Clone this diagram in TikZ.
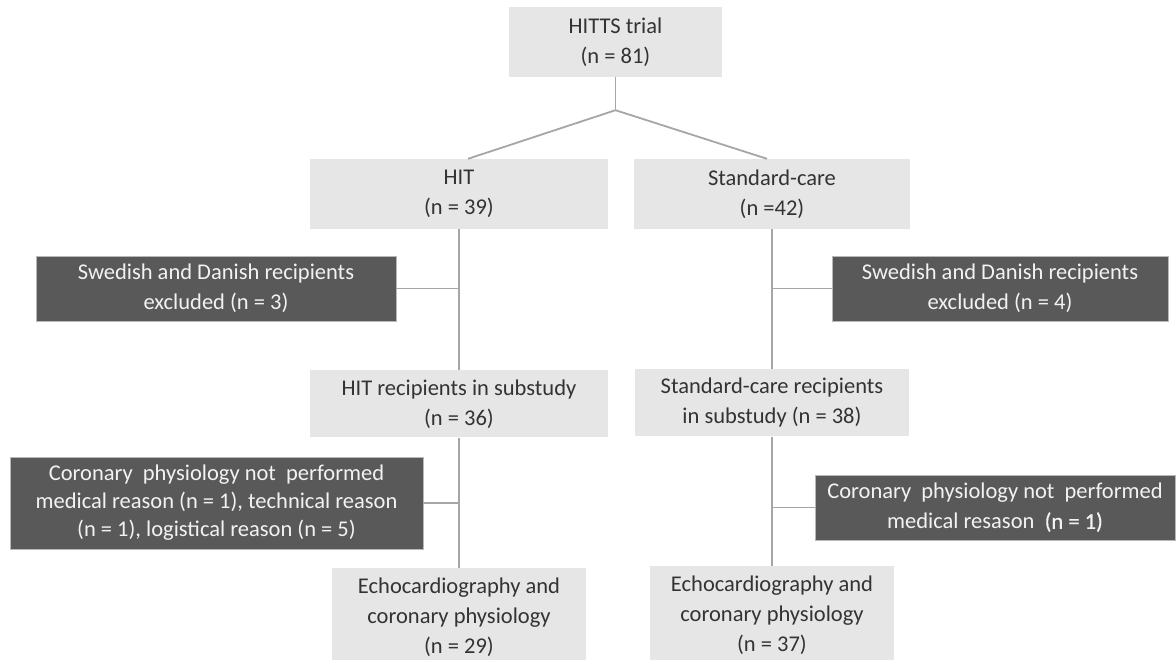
\documentclass[tikz,border=0pt]{standalone}
\usepackage{fontspec}
\setmainfont{Carlito}
\newfontfamily\heavyfont[FakeBold=0.5]{Carlito}
\usepackage{xcolor}
\definecolor{boxgray}{HTML}{E6E6E6}
\definecolor{boxdark}{HTML}{595959}
\definecolor{edgegray}{HTML}{A6A6A6}
\definecolor{ink}{HTML}{333333}
\usetikzlibrary{positioning,calc}
\tikzset{
  blk/.style={fill=boxgray,draw=none,align=center,text=ink,font=\fontsize{22.5}{30}\selectfont,
    inner sep=2pt,minimum height=70pt},
  blkd/.style={blk,fill=boxdark,draw=edgegray!80,line width=0.8pt,text=white!95!black,minimum height=65pt},
  flow/.style={draw=edgegray,line width=1.8pt},
}
\begin{document}
\begin{tikzpicture}[x=1pt,y=-1pt]
  \useasboundingbox[fill=white] (0,0) rectangle (1176,659);
  \node[blk,minimum width=213pt] (trial) at (615.5,42) {HITTS trial\\(n = 81)};
  \node[blk,minimum width=298pt] (hit) at (459,194) {HIT\\(n = 39)};
  \node[blk,minimum width=276pt] (std) at (772,194) {Standard-care\\(n =42)};
  \node[blk,minimum width=298pt,minimum height=67pt,below=141pt of hit] (hitsub) {HIT recipients in substudy\\(n = 36)};
  \node[blk,minimum width=274pt,minimum height=67pt,below=140pt of std] (stdsub) {Standard-care recipients\\in substudy (n = 38)};
  \node[blk,minimum width=254pt,minimum height=98pt,below=130pt of hitsub] (echol) {Echocardiography and\\coronary physiology\\(n = 29)};
  \node[blk,minimum width=244pt,minimum height=98pt,below=129pt of stdsub] (echor) {Echocardiography and\\coronary physiology\\(n = 37)};
  % exclusions
  \node[blkd,minimum width=360pt] (exl) at (216,288.5) {Swedish and Danish recipients\\excluded (n = 3)};
  \node[blkd,minimum width=336pt] (exr) at (1000,288.5) {Swedish and Danish recipients\\excluded (n = 4)};
  \node[blkd,minimum width=413pt,minimum height=92pt,font=\fontsize{22.5}{28}\selectfont] (cpl) at (216.5,503)
    {Coronary\ \ physiology not\ \ performed\\medical reason (n = 1), technical reason\\(n = 1), logistical reason (n = 5)};
  \node[blkd,minimum width=360pt] (cpr) at (995,507.5) {Coronary\ \ physiology not\ \ performed\\medical resason\ \ {\heavyfont(n = 1)}};
  \coordinate (split) at ($(trial.south)+(0,33)$);
  \draw[flow] (trial) -- (split);
  \draw[flow] (split) -- ([xshift=9pt]hit.north);
  \draw[flow] (split) -- ([xshift=-5pt]std.north);
  \draw[flow] (hit) -- (hitsub);
  \draw[flow] (hitsub) -- (echol);
  \draw[flow] (std) -- (stdsub);
  \draw[flow] (stdsub) -- (echor);
  \draw[flow] (exl.east) -- (exl.east -| hit.south);
  \draw[flow] (exr.west) -- (exr.west -| std.south);
  \draw[flow] (cpl.east) -- (cpl.east -| hitsub.south);
  \draw[flow] (cpr.west) -- (cpr.west -| stdsub.south);
\end{tikzpicture}
\end{document}
